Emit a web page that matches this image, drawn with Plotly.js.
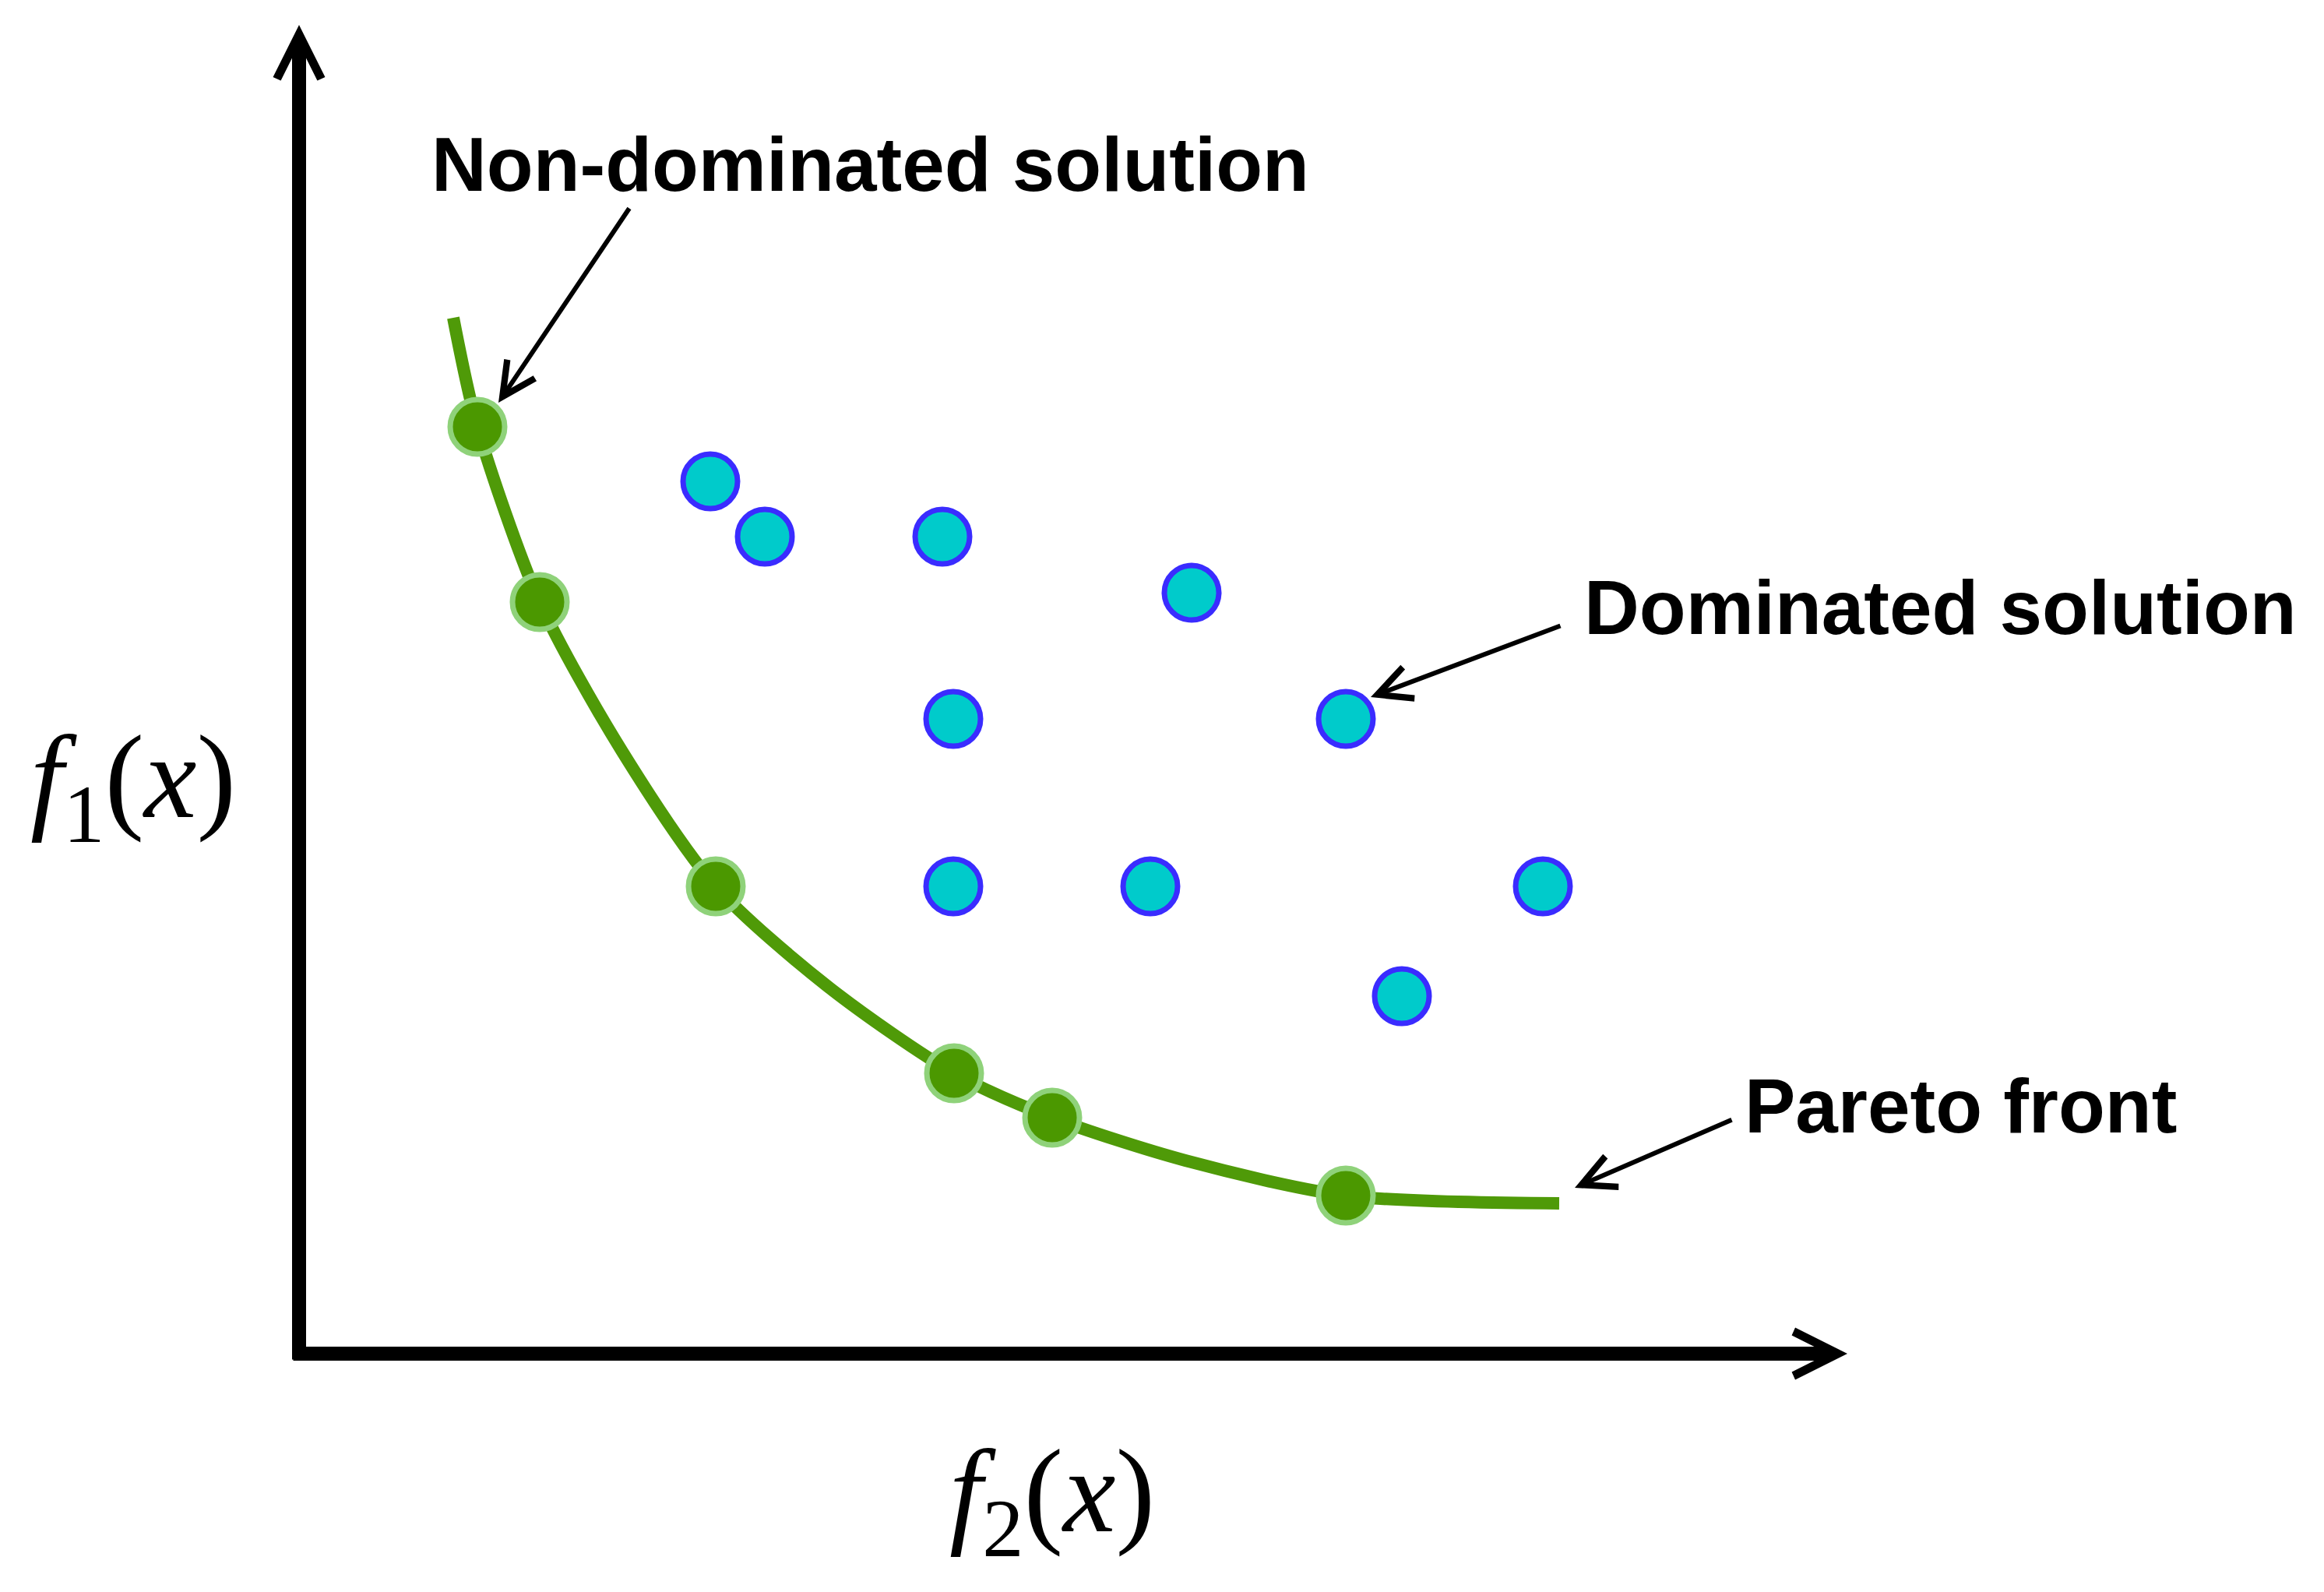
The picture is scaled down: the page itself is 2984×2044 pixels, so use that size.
<!DOCTYPE html>
<html>
<head>
<meta charset="utf-8">
<script src="https://cdn.plot.ly/plotly-3.0.1.min.js"></script>
<style>
  body { margin: 0; background: #ffffff; }
  #myDiv { width: 2984px; height: 2044px; }
</style>
</head>
<body>
<div id="myDiv"></div>
<script>
// Pareto front (curve, passes through the non-dominated points)
let frontCurveX = [1.98, 2.29, 3.09, 4.15, 5.35, 6.82, 8.41, 9.67, 11.38, 13.44, 16.18]
let frontCurveY = [13.30, 11.90, 9.65, 7.73, 6.00, 4.69, 3.60, 3.03, 2.48, 2.03, 1.93]

// non-dominated solutions
let frontX = [2.29, 3.09, 5.35, 8.41, 9.67, 13.44]
let frontY = [11.90, 9.65, 6.00, 3.60, 3.03, 2.03]

// dominated solutions
let domX = [5.28, 5.98, 8.26, 11.46, 8.40, 13.44, 8.40, 10.93, 15.97, 14.16]
let domY = [11.20, 10.49, 10.49, 9.77, 8.15, 8.15, 6.00, 6.00, 6.00, 4.59]

// labels
let labelText = ["Non-dominated solution", "Dominated solution", "Pareto front"]
let labelX = [1.68, 16.48, 18.54]
let labelY = [15.27, 9.58, 3.18]

// pointer arrows: tail -> tip
let pointerTailX = [4.25, 16.21, 18.41]
let pointerTailY = [14.72, 9.35, 3.01]
let pointerTipX = [2.56, 13.76, 16.38]
let pointerTipY = [12.21, 8.43, 2.13]

// axis tips
let axisTipX = 19.88
let axisTipY = 17.06

function drawPareto(){

	var data = [
		{
		x: frontCurveX,
		y: frontCurveY,
		mode: 'lines',
		line: {color: '#4f9a08', width: 16, shape: 'spline', smoothing: 0.8},
		hoverinfo: 'skip'
		},
		{
		x: frontX,
		y: frontY,
		mode: 'markers',
		marker: {size: 70, color: '#4b9800', line: {color: '#8fd27a', width: 7}}
		},
		{
		x: domX,
		y: domY,
		mode: 'markers',
		marker: {size: 70, color: '#00cbcb', line: {color: '#3a2cff', width: 7}}
		},
	];

	let annos = []

	// axes with open arrow heads
	annos.push({x: axisTipX, y: 0, ax: -0.09, ay: 0, xref: 'x', yref: 'y', axref: 'x', ayref: 'y',
		text: '', showarrow: true, arrowhead: 5, arrowsize: 0.62, arrowwidth: 18, arrowcolor: '#000000'})
	annos.push({x: 0, y: axisTipY, ax: 0, ay: -0.09, xref: 'x', yref: 'y', axref: 'x', ayref: 'y',
		text: '', showarrow: true, arrowhead: 5, arrowsize: 0.62, arrowwidth: 18, arrowcolor: '#000000'})

	for (let i = 0; i < labelText.length; i++){
		annos.push({
			x: labelX[i], y: labelY[i], xref: 'x', yref: 'y',
			xanchor: 'left', yanchor: 'middle',
			text: `<b>${labelText[i]}</b>`, showarrow: false,
			font: {family: 'Liberation Sans, Arial, sans-serif', size: 98, color: '#000000'}
			})
		annos.push({
			x: pointerTipX[i], y: pointerTipY[i], ax: pointerTailX[i], ay: pointerTailY[i],
			xref: 'x', yref: 'y', axref: 'x', ayref: 'y',
			text: '', showarrow: true, arrowhead: 5, arrowsize: 1.4, arrowwidth: 6, arrowcolor: '#000000'
			})
		}

	// axis names
	let mathFont = {family: 'Liberation Serif, Times New Roman, serif', size: 152, color: '#000000'}
	annos.push({x: -2.13, y: 7.29, xref: 'x', yref: 'y', showarrow: false,
		text: '<i>f</i><sub>1</sub>(<i>x</i>)', font: mathFont})
	annos.push({x: 9.67, y: -1.88, xref: 'x', yref: 'y', showarrow: false,
		text: '<i>f</i><sub>2</sub>(<i>x</i>)', font: mathFont})

	var layout = {
		width: 2984,
		height: 2044,
		margin: {l: 0, r: 0, t: 0, b: 0},
		paper_bgcolor: '#ffffff',
		plot_bgcolor: '#ffffff',
		showlegend: false,
		xaxis: {range: [-3.84, 26.0], visible: false, fixedrange: true},
		yaxis: {range: [-3.06, 17.38], visible: false, fixedrange: true},
		annotations: annos,
		};

	Plotly.newPlot('myDiv', data, layout, {displayModeBar: false, staticPlot: true});
}

drawPareto()
</script>
</body>
</html>
